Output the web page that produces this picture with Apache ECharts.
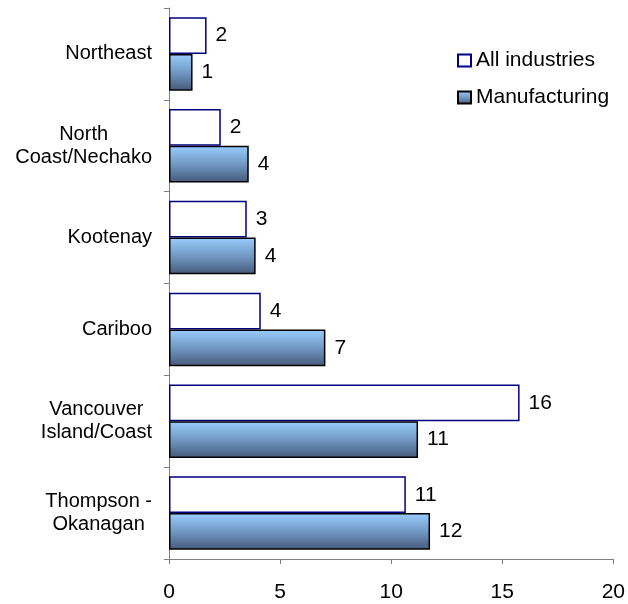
<!DOCTYPE html>
<html>
<head>
<meta charset="utf-8">
<script src="https://cdn.jsdelivr.net/npm/echarts@6/dist/echarts.min.js"></script>
<style>
  html, body { margin: 0; padding: 0; background: #ffffff; }
  #regionChart { width: 628px; height: 604px; }
</style>
</head>
<body>
<div id="regionChart"></div>
<script>
// regions, top to bottom
var regions = [
  "Northeast",
  "North\nCoast/Nechako",
  "Kootenay",
  "Cariboo",
  "Vancouver\nIsland/Coast",
  "Thompson -\nOkanagan"
];
// bar lengths (labels show them rounded)
var allIndustries = [1.69, 2.33, 3.5, 4.13, 15.78, 10.66];
var manufacturing = [1.06, 3.59, 3.9, 7.04, 11.21, 11.75];
var xTicks = [0, 5, 10, 15, 20];

var myChart = echarts.init(document.getElementById("regionChart"));
var font = "'Liberation Sans', Arial, sans-serif";

var valueLabel = {
  show: true,
  position: "right",
  distance: 9,
  fontSize: 21,
  fontFamily: font,
  color: "#000000",
  formatter: function (p) {
    return Math.round(p.value - 0.01);
  }
};

var chartOptions = {
  backgroundColor: "#ffffff",
  animation: false,
  grid: {
    left: 169,
    right: 13,
    top: 8,
    bottom: 45
  },
  legend: {
    orient: "vertical",
    left: 452,
    top: 45,
    itemWidth: 13,
    itemHeight: 12,
    itemGap: 16,
    icon: "rect",
    textStyle: {
      fontSize: 21,
      fontFamily: font,
      color: "#000000"
    },
    data: ["All industries", "Manufacturing"]
  },
  xAxis: {
    type: "value",
    min: xTicks[0],
    max: xTicks[xTicks.length - 1],
    interval: 5,
    splitLine: { show: false },
    axisLine: {
      show: true,
      lineStyle: { color: "#808080" }
    },
    axisTick: {
      show: true,
      length: 5,
      lineStyle: { color: "#808080" }
    },
    axisLabel: {
      margin: 23,
      fontSize: 21,
      fontFamily: font,
      color: "#000000"
    }
  },
  yAxis: {
    type: "category",
    inverse: true,
    data: regions,
    axisLine: {
      show: true,
      lineStyle: { color: "#808080" }
    },
    axisTick: {
      show: true,
      length: 5,
      lineStyle: { color: "#808080" }
    },
    axisLabel: {
      margin: 17,
      fontSize: 20,
      fontFamily: font,
      color: "#000000",
      formatter: function (v) {
        return v.split("\n").map(function (s) { return "{a|" + s + "}"; }).join("\n");
      },
      rich: {
        a: {
          fontSize: 20,
          fontFamily: font,
          color: "#000000",
          lineHeight: 23,
          align: "center"
        }
      }
    }
  },
  series: [
    {
      name: "All industries",
      type: "bar",
      data: allIndustries,
      barGap: "0%",
      barCategoryGap: "20%",
      itemStyle: {
        color: "#ffffff",
        borderColor: "#000080",
        borderWidth: 1.5
      },
      label: valueLabel
    },
    {
      name: "Manufacturing",
      type: "bar",
      data: manufacturing,
      barGap: "0%",
      barCategoryGap: "20%",
      itemStyle: {
        color: new echarts.graphic.LinearGradient(0, 0, 0, 1, [
          { offset: 0, color: "#9acdff" },
          { offset: 0.5, color: "#7199c4" },
          { offset: 1, color: "#45597a" }
        ]),
        borderColor: "#000000",
        borderWidth: 1.5
      },
      label: valueLabel
    }
  ]
};

myChart.setOption(chartOptions);
</script>
</body>
</html>
